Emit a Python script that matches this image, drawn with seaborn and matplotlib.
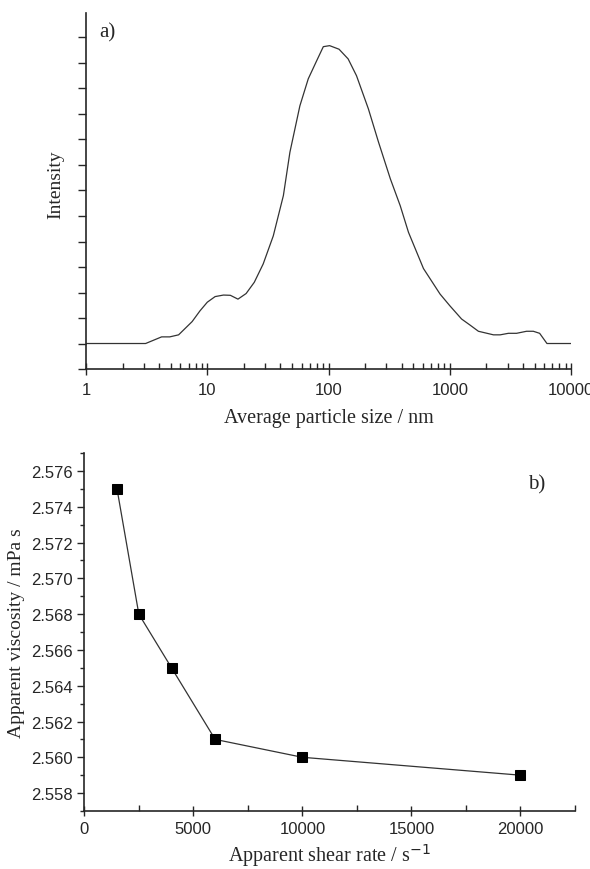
import numpy as np
import pandas as pd
import seaborn as sns
import matplotlib.pyplot as plt
from matplotlib.ticker import MultipleLocator, LogLocator, NullFormatter

# particle size distribution (panel a)
size_nm = [1, 3.1, 4.2, 4.9, 5.8, 7.5, 8.7, 10, 11.6, 13.6, 15.5, 17.9, 20.9, 24.4,
           28.9, 35, 42.4, 48, 58, 68, 80, 90.5, 102, 122, 145, 170, 213, 258, 323,
           390, 456, 606, 830, 1000, 1250, 1470, 1720, 2290, 2600, 3040, 3550, 4290,
           4880, 5500, 6320, 10000]
intensity = [0, 0, 0.13, 0.13, 0.17, 0.43, 0.64, 0.81, 0.92, 0.95, 0.945, 0.87, 0.98, 1.2,
             1.56, 2.11, 2.9, 3.75, 4.66, 5.19, 5.55, 5.82, 5.84, 5.77, 5.58, 5.25, 4.6,
             3.95, 3.23, 2.7, 2.18, 1.47, 0.97, 0.74, 0.48, 0.36, 0.24, 0.17, 0.17, 0.2,
             0.2, 0.24, 0.24, 0.2, 0, 0]

# viscosity vs shear rate (panel b)
shear_rate = [1500, 2500, 4000, 6000, 10000, 20000]
viscosity = [2.575, 2.568, 2.565, 2.561, 2.560, 2.559]

psd = pd.DataFrame({'size': size_nm, 'intensity': intensity})
visc = pd.DataFrame({'rate': shear_rate, 'visc': viscosity})

sns.set_style('ticks')
plt.rcParams['font.family'] = ['Liberation Sans', 'DejaVu Sans']
serif = 'Liberation Serif'

fig = plt.figure(figsize=(5.9, 8.7), dpi=100)
ax1 = fig.add_axes([0.1458, 0.5747, 0.8222, 0.4092])
ax2 = fig.add_axes([0.1429, 0.0667, 0.8317, 0.4113])

# a) particle size
sns.lineplot(data=psd, x='size', y='intensity', ax=ax1, color='#333333', lw=0.9)
ax1.set_xscale('log')
ax1.set_xlim(1, 10000)
ax1.set_ylim(-0.5, 6.48)
ax1.xaxis.set_minor_locator(LogLocator(base=10, subs=np.arange(2, 10), numticks=10))
ax1.xaxis.set_minor_formatter(NullFormatter())
ax1.set_xticks([1, 10, 100, 1000, 10000])
ax1.set_xticklabels(['1', '10', '100', '1000', '10000'])
ax1.yaxis.set_major_locator(MultipleLocator(1))
ax1.yaxis.set_minor_locator(MultipleLocator(0.5))
ax1.set_yticklabels([])
ax1.tick_params(axis='x', which='major', direction='inout', length=8, width=1,
                labelsize=12, pad=5)
ax1.tick_params(axis='x', which='minor', direction='in', length=4, width=1)
ax1.tick_params(axis='y', which='both', direction='out', length=6, width=1)
ax1.set_xlabel('Average particle size / nm', family=serif, fontsize=14.5, labelpad=8)
ax1.set_ylabel('Intensity', family=serif, fontsize=14)
ax1.yaxis.set_label_coords(-0.045, 0.52)
ax1.text(0.028, 0.975, 'a)', transform=ax1.transAxes, family=serif, fontsize=15, va='top')

# b) viscosity
sns.lineplot(data=visc, x='rate', y='visc', ax=ax2, color='#333333', lw=0.9,
             marker='s', markersize=7, markerfacecolor='black', markeredgecolor='black')
ax2.set_xlim(0, 22500)
ax2.set_ylim(2.557, 2.577)
ax2.xaxis.set_major_locator(MultipleLocator(5000))
ax2.xaxis.set_minor_locator(MultipleLocator(2500))
ax2.yaxis.set_major_locator(MultipleLocator(0.002))
ax2.yaxis.set_minor_locator(MultipleLocator(0.001))
ax2.yaxis.set_major_formatter(plt.FormatStrFormatter('%.3f'))
ax2.tick_params(axis='x', which='major', direction='inout', length=7, width=1, labelsize=12)
ax2.tick_params(axis='x', which='minor', direction='in', length=4, width=1)
ax2.tick_params(axis='y', which='major', direction='out', length=5, width=1, labelsize=12)
ax2.tick_params(axis='y', which='minor', direction='out', length=3, width=1)
ax2.set_xlabel('Apparent shear rate / s$^{-1}$', family=serif, fontsize=14.5, labelpad=4)
ax2.set_ylabel('Apparent viscosity / mPa s', family=serif, fontsize=14, labelpad=4)
ax2.text(0.905, 0.94, 'b)', transform=ax2.transAxes, family=serif, fontsize=15, va='top')

for ax in (ax1, ax2):
    sns.despine(ax=ax)
    for s in ('left', 'bottom'):
        ax.spines[s].set_linewidth(1.2)

fig.savefig('out.png', dpi=100)
